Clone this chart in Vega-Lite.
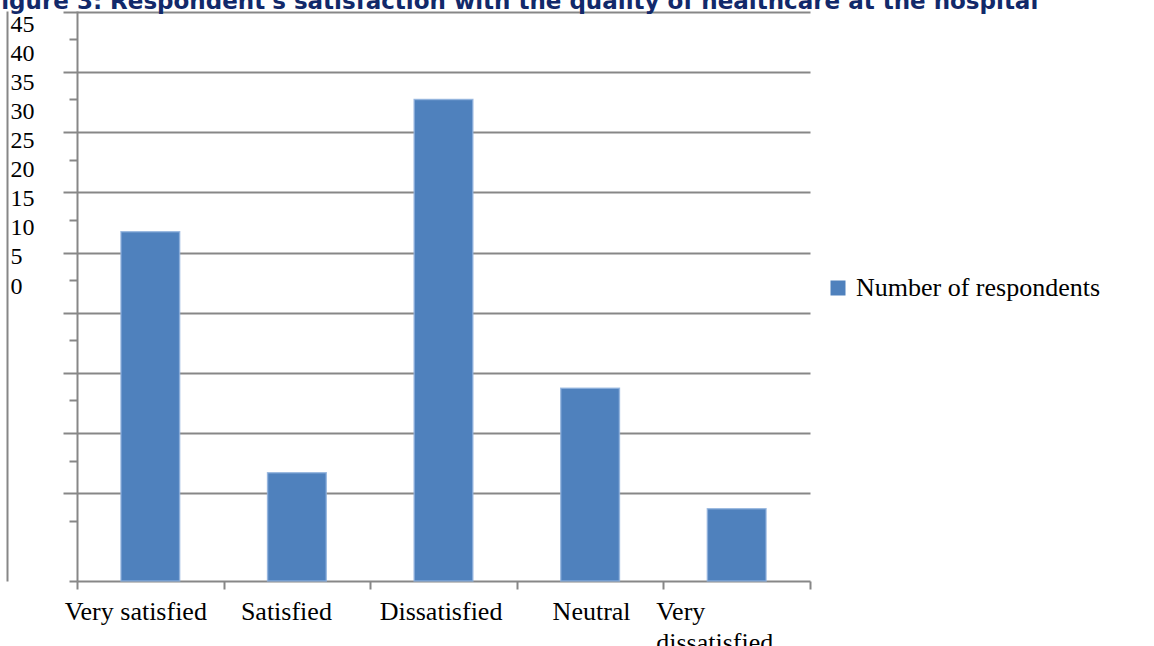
{
  "$schema": "https://vega.github.io/schema/vega-lite/v6.json",
  "width": 733,
  "height": 570,
  "autosize": "none",
  "padding": {"left": 77, "top": 11, "right": 344, "bottom": 65},
  "background": "white",
  "config": {"view": {"stroke": null}},
  "data": {
    "values": [
      {"category": "Very satisfied", "respondents": 29, "series": "Number of respondents"},
      {"category": "Satisfied", "respondents": 9, "series": "Number of respondents"},
      {"category": "Dissatisfied", "respondents": 40, "series": "Number of respondents"},
      {"category": "Neutral", "respondents": 16, "series": "Number of respondents"},
      {"category": "Very dissatisfied", "respondents": 6, "series": "Number of respondents"}
    ]
  },
  "layer": [
    {
      "mark": {"type": "bar", "width": {"band": 0.4}, "stroke": "#8fb0dc", "strokeWidth": 1.5, "strokeOpacity": 0.8},
      "encoding": {
        "x": {
          "field": "category",
          "type": "nominal",
          "sort": null,
          "scale": {"paddingInner": 0, "paddingOuter": 0},
          "axis": {
            "title": null,
            "tickBand": "extent",
            "grid": false,
            "domainColor": "#878787",
            "domainWidth": 2,
            "tickColor": "#878787",
            "tickWidth": 2,
            "tickSize": 8,
            "labelFont": "Liberation Serif",
            "labelFontSize": 26,
            "labelColor": "black",
            "labelAngle": 0,
            "labelPadding": 30,
            "labelBaseline": "alphabetic",
            "labelLineHeight": 31,
            "labelLimit": 400,
            "labelExpr": "datum.label == 'Very dissatisfied' ? ['Very', 'dissatisfied'] : datum.label",
            "labelAlign": {"condition": {"test": "datum.value == 'Very dissatisfied'", "value": "left"}, "value": "center"},
            "labelOffset": {
              "condition": [
                {"test": "datum.value == 'Very satisfied'", "value": -15},
                {"test": "datum.value == 'Satisfied'", "value": -11},
                {"test": "datum.value == 'Dissatisfied'", "value": -3},
                {"test": "datum.value == 'Very dissatisfied'", "value": -81}
              ],
              "value": 1
            }
          }
        },
        "y": {
          "field": "respondents",
          "type": "quantitative",
          "scale": {"domain": [0, 47.34], "nice": false},
          "axis": {
            "orient": "left",
            "title": null,
            "values": [7.27, 12.27, 17.27, 22.27, 27.27, 32.27, 37.27, 42.27, 47.27],
            "labels": false,
            "grid": true,
            "gridColor": "#878787",
            "gridWidth": 2,
            "tickSize": 14,
            "tickColor": "#878787",
            "tickWidth": 2,
            "domainColor": "#878787",
            "domainWidth": 2
          }
        },
        "color": {
          "field": "series",
          "type": "nominal",
          "scale": {"range": ["#4f81bd"]},
          "legend": {
            "title": null,
            "orient": "none",
            "legendX": 748,
            "legendY": 264,
            "symbolType": "square",
            "symbolSize": 225,
            "symbolStrokeWidth": 0,
            "labelFont": "Liberation Serif",
            "labelFontSize": 26,
            "labelColor": "black",
            "labelOffset": 5,
            "labelLimit": 400,
            "padding": 0
          }
        }
      }
    },
    {
      "mark": {"type": "bar", "opacity": 0},
      "encoding": {
        "y": {
          "field": "respondents",
          "type": "quantitative",
          "scale": {"domain": [0, 47.34], "nice": false},
          "axis": {
            "orient": "left",
            "title": null,
            "values": [0, 5, 10, 15, 20, 25, 30, 35, 40, 45],
            "labels": false,
            "grid": false,
            "domain": false,
            "tickSize": 8,
            "tickColor": "#878787",
            "tickWidth": 2
          }
        }
      }
    },
    {
      "mark": {"type": "bar", "opacity": 0},
      "encoding": {
        "y": {
          "field": "respondents",
          "type": "quantitative",
          "scale": {"domain": [0, 47.34], "nice": false},
          "axis": {
            "orient": "left",
            "title": "Figure 3: Respondent's satisfaction with the quality of healthcare at the hospital",
            "titleAngle": 0,
            "titleAlign": "left",
            "titleBaseline": "alphabetic",
            "titleX": -22,
            "titleY": -3,
            "titleFont": "DejaVu Sans",
            "titleFontSize": 23,
            "titleFontWeight": "bold",
            "titleColor": "#12296a",
            "titleLimit": 2000,
            "values": [24.5, 26.91, 29.32, 31.73, 34.14, 36.55, 38.96, 41.37, 43.78, 46.19],
            "labelExpr": "format(round((datum.value - 24.5) / 2.41) * 5, 'd')",
            "labelAlign": "left",
            "labelBaseline": "middle",
            "labelFont": "Liberation Serif",
            "labelFontSize": 24,
            "labelColor": "black",
            "labelPadding": -3,
            "labelOverlap": false,
            "labelFlush": false,
            "ticks": false,
            "tickSize": 0,
            "grid": false,
            "offset": 70,
            "domain": true,
            "domainColor": "#878787",
            "domainWidth": 2
          }
        }
      }
    }
  ],
  "resolve": {"axis": {"y": "independent"}}
}
